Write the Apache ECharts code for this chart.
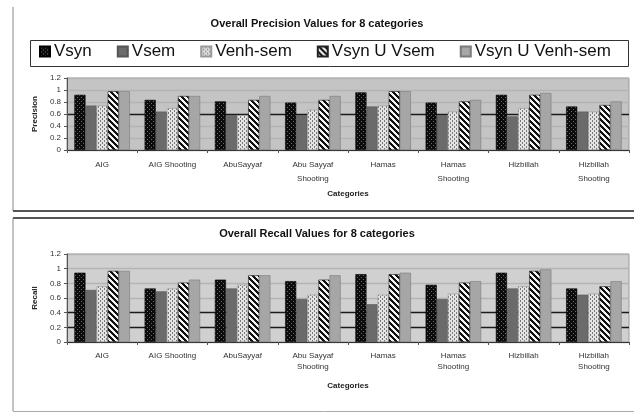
<!DOCTYPE html>
<html>
<head>
<meta charset="utf-8">
<script src="https://cdn.jsdelivr.net/npm/echarts@6/dist/echarts.min.js"></script>
<style>
  html, body { margin: 0; padding: 0; background: #fff; }
  #main { width: 634px; height: 413px; }
</style>
</head>
<body>
<div id="main"></div>
<script>
var categories = ['AIG', 'AIG Shooting', 'AbuSayyaf', 'Abu Sayyaf\nShooting', 'Hamas', 'Hamas\nShooting', 'Hizbillah', 'Hizbillah\nShooting'];
var seriesNames = ['Vsyn', 'Vsem', 'Venh-sem', 'Vsyn U Vsem', 'Vsyn U Venh-sem'];
var yTicks = [0, 0.2, 0.4, 0.6, 0.8, 1, 1.2];

// precision chart
var precVsyn      = [0.92, 0.835, 0.81, 0.79, 0.96, 0.79, 0.92, 0.725];
var precVsem      = [0.74, 0.64, 0.58, 0.58, 0.725, 0.58, 0.56, 0.64];
var precVenh      = [0.74, 0.70, 0.58, 0.67, 0.74, 0.64, 0.70, 0.64];
var precVsynUVsem = [0.98, 0.90, 0.835, 0.835, 0.98, 0.81, 0.92, 0.75];
var precVsynUVenh = [0.98, 0.90, 0.90, 0.90, 0.98, 0.835, 0.95, 0.81];

// recall chart
var recVsyn      = [0.945, 0.73, 0.85, 0.83, 0.925, 0.78, 0.945, 0.73];
var recVsem      = [0.71, 0.69, 0.73, 0.585, 0.515, 0.585, 0.73, 0.645];
var recVenh      = [0.76, 0.73, 0.78, 0.645, 0.645, 0.66, 0.76, 0.66];
var recVsynUVsem = [0.97, 0.81, 0.91, 0.85, 0.925, 0.81, 0.97, 0.76];
var recVsynUVenh = [0.97, 0.85, 0.91, 0.91, 0.945, 0.83, 0.99, 0.83];

var FONT = 'Liberation Sans';

function makePattern(size, draw) {
  var c = document.createElement('canvas');
  c.width = size; c.height = size;
  var ctx = c.getContext('2d');
  draw(ctx, size);
  return { image: c, repeat: 'repeat' };
}

var dotsDark = makePattern(4, function (ctx) {
  ctx.fillStyle = '#0c0c0c'; ctx.fillRect(0, 0, 4, 4);
  ctx.fillStyle = '#6a6a6a';
  ctx.fillRect(1, 1, 1, 1); ctx.fillRect(3, 3, 1, 1);
});
var dotsLight = makePattern(4, function (ctx) {
  ctx.fillStyle = '#e4e4e4'; ctx.fillRect(0, 0, 4, 4);
  ctx.fillStyle = '#7a7a7a';
  ctx.fillRect(0, 0, 1, 2); ctx.fillRect(2, 2, 1, 2);
});
var stripes = makePattern(6, function (ctx) {
  for (var x = 0; x < 6; x++) {
    for (var y = 0; y < 6; y++) {
      ctx.fillStyle = (((x - y) % 6 + 6) % 6) < 3 ? '#111' : '#f4f4f4';
      ctx.fillRect(x, y, 1, 1);
    }
  }
});

var looks = [
  { color: dotsDark, borderColor: '#000' },
  { color: '#6b6b6b', borderColor: '#555' },
  { color: dotsLight, borderColor: '#999' },
  { color: stripes, borderColor: '#222' },
  { color: '#a6a6a6', borderColor: '#7a7a7a' }
];

function splitColors(darkVals) {
  return yTicks.map(function (v) {
    return darkVals.indexOf(v) >= 0 ? '#1a1a1a' : '#b4b4b4';
  });
}

function xAxisFor(gridIndex, lh) {
  return {
    type: 'category', gridIndex: gridIndex, data: categories,
    axisLine: { lineStyle: { color: '#333', width: 1 } },
    axisTick: { show: true, length: 3, lineStyle: { color: '#555' } },
    axisLabel: { fontFamily: FONT, fontSize: 8, color: '#333', margin: 8, lineHeight: lh, interval: 0 },
    name: 'Categories', nameLocation: 'middle', nameGap: 40,
    nameTextStyle: { fontFamily: FONT, fontSize: 8, fontWeight: 'bold', color: '#222' }
  };
}

function yAxisFor(gridIndex, name, darkVals) {
  return {
    type: 'value', gridIndex: gridIndex, min: 0, max: 1.2, interval: 0.2,
    axisLine: { show: true, lineStyle: { color: '#555' } },
    axisTick: { show: true, length: 3, lineStyle: { color: '#555' } },
    axisLabel: { fontFamily: FONT, fontSize: 8, color: '#333', margin: 6 },
    splitLine: { show: true, lineStyle: { color: splitColors(darkVals), width: 1.3 } },
    name: name, nameLocation: 'middle', nameGap: 27, nameRotate: 90,
    nameTextStyle: { fontFamily: FONT, fontSize: 8, fontWeight: 'bold', color: '#222' }
  };
}

var precData = [precVsyn, precVsem, precVenh, precVsynUVsem, precVsynUVenh];
var recData = [recVsyn, recVsem, recVenh, recVsynUVsem, recVsynUVenh];

var series = [];
[precData, recData].forEach(function (group, gi) {
  group.forEach(function (vals, i) {
    series.push({
      name: seriesNames[i], type: 'bar', xAxisIndex: gi, yAxisIndex: gi,
      data: vals, barGap: '0%', barCategoryGap: '21%',
      itemStyle: { color: looks[i].color, borderColor: looks[i].borderColor, borderWidth: 0.6 }
    });
  });
});

var chart = echarts.init(document.getElementById('main'), null, { renderer: 'canvas' });
chart.setOption({
  animation: false,
  backgroundColor: '#fff',
  title: [
    { text: 'Overall Precision Values for 8 categories', left: 'center', top: 13,
      textStyle: { fontFamily: FONT, fontSize: 11, fontWeight: 'bold', color: '#111' } },
    { text: 'Overall Recall Values for 8 categories', left: 'center', top: 223,
      textStyle: { fontFamily: FONT, fontSize: 11, fontWeight: 'bold', color: '#111' } }
  ],
  graphic: [
    { type: 'line', shape: { x1: 13, y1: 7, x2: 13, y2: 211 }, style: { stroke: '#888', lineWidth: 1 } },
    { type: 'line', shape: { x1: 13, y1: 211, x2: 634, y2: 211 }, style: { stroke: '#555', lineWidth: 2 } },
    { type: 'line', shape: { x1: 13, y1: 218, x2: 634, y2: 218 }, style: { stroke: '#555', lineWidth: 2 } },
    { type: 'line', shape: { x1: 13, y1: 218, x2: 13, y2: 411 }, style: { stroke: '#888', lineWidth: 1 } },
    { type: 'line', shape: { x1: 13, y1: 411.5, x2: 634, y2: 411.5 }, style: { stroke: '#aaa', lineWidth: 1 } },
    { type: 'rect', z: 0, shape: { x: 30.5, y: 40.5, width: 598, height: 26 },
      style: { fill: '#fff', stroke: '#333', lineWidth: 1 } }
  ],
  legend: {
    data: seriesNames, left: 39, top: 43, itemWidth: 10, itemHeight: 10, itemGap: 25,
    icon: 'rect', padding: 0, z: 5,
    textStyle: { fontFamily: FONT, fontSize: 17, color: '#111', padding: [0, 0, 0, -1] }
  },
  grid: [
    { left: 67, right: 5, top: 78, height: 72, show: true, backgroundColor: '#c4c4c4', borderColor: '#999', borderWidth: 1 },
    { left: 67, right: 5, top: 254, height: 88, show: true, backgroundColor: '#d0d0d0', borderColor: '#999', borderWidth: 1 }
  ],
  xAxis: [xAxisFor(0, 14), xAxisFor(1, 11)],
  yAxis: [yAxisFor(0, 'Precision', [0.6]), yAxisFor(1, 'Recall', [0.2, 0.4])],
  series: series
});
</script>
</body>
</html>
